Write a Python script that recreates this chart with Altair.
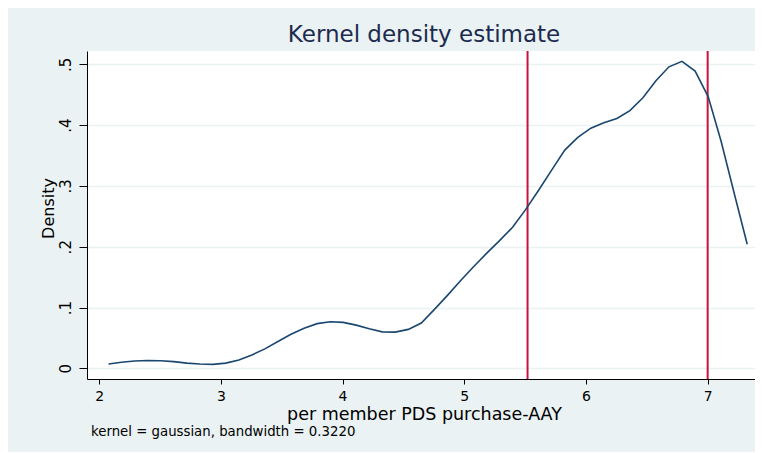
import altair as alt
import pandas as pd

# Kernel density estimate (50 evaluation points)
x_vals = [2.077, 2.184, 2.291, 2.398, 2.505, 2.613, 2.720, 2.827, 2.934, 3.041,
          3.148, 3.255, 3.362, 3.469, 3.576, 3.684, 3.791, 3.898, 4.005, 4.112,
          4.219, 4.326, 4.433, 4.540, 4.647, 4.755, 4.862, 4.969, 5.076, 5.183,
          5.290, 5.397, 5.504, 5.611, 5.718, 5.826, 5.933, 6.040, 6.147, 6.254,
          6.361, 6.468, 6.575, 6.682, 6.789, 6.897, 7.004, 7.111, 7.218, 7.325]
density = [0.007, 0.010, 0.012, 0.0128, 0.0125, 0.011, 0.0085, 0.007, 0.0065, 0.0085,
           0.0135, 0.022, 0.032, 0.044, 0.056, 0.066, 0.0735, 0.0765, 0.0755, 0.071,
           0.065, 0.060, 0.0595, 0.064, 0.0745, 0.097, 0.120, 0.144, 0.167, 0.189,
           0.210, 0.232, 0.261, 0.293, 0.326, 0.359, 0.380, 0.395, 0.404, 0.411,
           0.424, 0.445, 0.473, 0.496, 0.505, 0.489, 0.447, 0.373, 0.288, 0.204]
vlines = [5.52, 7.0]
x_ticks = [2, 3, 4, 5, 6, 7]
y_ticks = [0, 0.1, 0.2, 0.3, 0.4, 0.5]
note = "kernel = gaussian, bandwidth = 0.3220"

df = pd.DataFrame({"x": x_vals, "d": density})
vdf = pd.DataFrame({"v": vlines})

FONT = "DejaVu Sans"

xscale = alt.Scale(domain=[1.90, 7.389], nice=False, zero=False)
yscale = alt.Scale(domain=[-0.0176, 0.522], nice=False, zero=False)

xaxis = alt.Axis(values=x_ticks, format=".0f", title="per member PDS purchase-AAY", grid=False,
                 tickSize=5, tickColor="black", domainColor="black",
                 labelFontSize=14, labelPadding=5, labelColor="black", labelFont=FONT,
                 titleFontSize=17.5, titleFontWeight="normal", titleColor="black",
                 titleFont=FONT, titleBaseline="alphabetic", titleY=40, titleX=337)
yaxis = alt.Axis(values=y_ticks, title="Density", grid=True, gridColor="#eaf2f3",
                 gridWidth=1.5, tickSize=8, tickColor="black", domainColor="black",
                 labelAngle=270, labelAlign="center", labelBaseline="bottom",
                 labelFontSize=15, labelPadding=6, labelColor="black", labelFont=FONT,
                 labelExpr="datum.value == 0 ? '0' : replace(format(datum.value, '.1f'), '0.', '.')",
                 titleFontSize=16, titleFontWeight="normal", titleColor="black",
                 titleFont=FONT, titleAngle=270, titleAlign="center",
                 titleBaseline="alphabetic", titleX=-34, titleY=157)

line = alt.Chart(df).mark_line(color="#1a476f", strokeWidth=1.6).encode(
    x=alt.X("x:Q", scale=xscale, axis=xaxis),
    y=alt.Y("d:Q", scale=yscale, axis=yaxis),
)

rules = alt.Chart(vdf).mark_rule(color="#c8143c", strokeWidth=2).encode(
    x=alt.X("v:Q", scale=xscale)
)

note_layer = alt.Chart(pd.DataFrame({"t": [note]})).mark_text(
    align="left", baseline="middle", fontSize=13.3, font=FONT, color="black"
).encode(x=alt.value(4), y=alt.value(381), text="t:N")

chart = alt.layer(rules, line, note_layer).properties(
    width=668, height=328,
    autosize=alt.AutoSizeParams(type="none"),
    padding={"left": 79, "top": 43, "right": 0, "bottom": 73},
    title=alt.TitleParams("Kernel density estimate", fontSize=23, font=FONT,
                          fontWeight="normal", color="#1c2b4e", anchor="middle",
                          baseline="alphabetic", offset=7, dy=22, dx=3),
).configure(background="#eaf2f3").configure_view(fill="white", stroke=None)

chart.save("out.html", embed_options={"renderer": "svg", "actions": False})
